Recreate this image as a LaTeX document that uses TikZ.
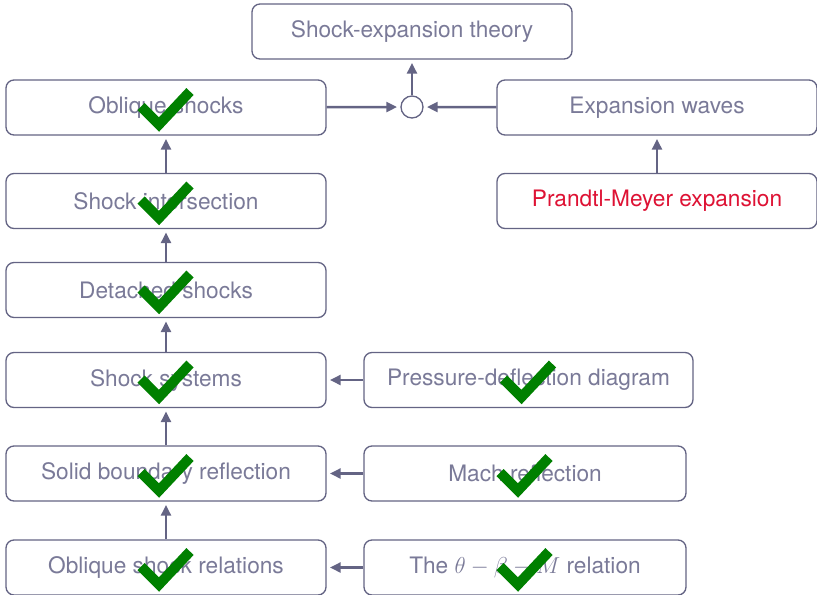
\documentclass[tikz,border=0pt]{standalone}
\usepackage{fontspec}
\setmainfont{TeX Gyre Heros}
\usetikzlibrary{arrows.meta}
\definecolor{edge}{RGB}{100,100,132}
\definecolor{ink}{RGB}{122,122,152}
\definecolor{hot}{RGB}{222,18,52}
\definecolor{done}{RGB}{0,128,0}
\newcommand{\donemark}[1]{\draw[checkline, shift={(#1)}] (-25,-1) -- (-7,17) -- (24,-16);}

\begin{document}
\begin{tikzpicture}[x=0.75pt, y=-0.75pt,
  block/.style={rectangle, rounded corners=6pt, draw=edge, line width=1pt, fill=white,
    minimum width=240pt, minimum height=41.25pt, text=ink, font=\fontsize{17}{20}\selectfont},
  joint/.style={circle, draw=edge, line width=1pt, fill=white, minimum size=16.5pt, inner sep=0pt},
  link/.style={draw=edge, line width=1.8pt, -{Triangle[length=8pt,width=7.5pt]}, shorten >=2.5pt},
  checkline/.style={draw=done, line width=7.5pt, line join=miter}]
\useasboundingbox (0,0) rectangle (817,594);

\node[block] (1) at (412,31.5) {Shock-expansion theory};
\node[joint] (2) at (412,107) {};
\node[block] (3) at (166,107.5) {Oblique shocks};
\node[block] (4) at (657,107.5) {Expansion waves};
\node[block] (5) at (166,201) {Shock intersection};
\node[block, text=hot] (6) at (657,201) {Prandtl-Meyer expansion};
\node[block] (7) at (166,290) {Detached shocks};
\node[block] (8) at (166,380) {Shock systems};
\node[block, minimum width=246.75pt] (9) at (528.5,380) {Pressure-deflection diagram};
\node[block] (10) at (166,473.5) {Solid boundary reflection};
\node[block, minimum width=241.5pt] (11) at (525,473.5) {Mach reflection};
\node[block] (12) at (166,567.5) {Oblique shock relations};
\node[block, minimum width=241.5pt] (13) at (525,567.5) {The $\theta-\beta-M$ relation};

\draw[link] (3) -- (2);
\draw[link] (4) -- (2);
\draw[link] (2) -- (1);
\draw[link] (6) -- (4);
\draw[link] (5) -- (3);
\draw[link] (7) -- (5);
\draw[link] (8) -- (7);
\draw[link] (10) -- (8);
\draw[link] (12) -- (10);
\draw[link] (9) -- (8);
\draw[link] (11) -- (10);
\draw[link] (13) -- (12);

% done
\donemark{3}
\donemark{5}
\donemark{7}
\donemark{8}
\donemark{10}
\donemark{12}
\donemark{9}
\donemark{11}
\donemark{13}
\end{tikzpicture}
\end{document}
